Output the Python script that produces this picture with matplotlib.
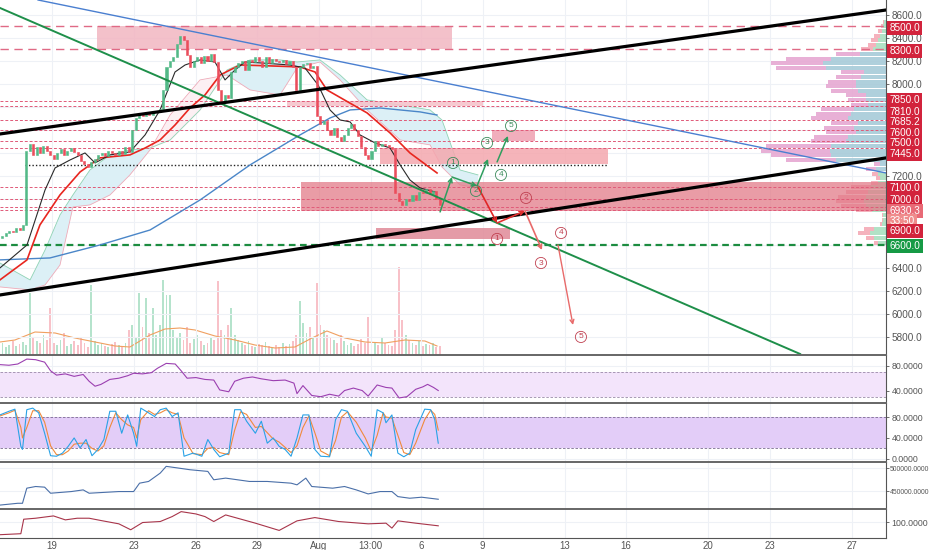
import matplotlib
matplotlib.use('Agg')
import numpy as np
from matplotlib import pyplot as plt
from matplotlib import transforms
from matplotlib.patches import Rectangle

plt.rcParams['font.family'] = ['Liberation Sans', 'DejaVu Sans']

# ---------------- price data (4h candles from 16 Jul 12:00) ----------------
t_start = 16.5
first_open = 6660
closes = [6680, 6700, 6720,
          6710, 6750, 6730, 6770, 7420, 7480,
          7380, 7450, 7400, 7460, 7420, 7380,
          7350, 7400, 7430, 7380, 7420, 7440,
          7410, 7380, 7330, 7300, 7280, 7320,
          7350, 7380, 7400, 7370, 7420, 7400,
          7380, 7420, 7390, 7450, 7410, 7600,
          7700, 7740, 7720, 7750, 7730, 7760,
          7760, 7780, 7950, 8150, 8200, 8230,
          8350, 8420, 8380, 8250, 8150, 8200,
          8230, 8180, 8240, 8200, 8260, 8190,
          7950, 7850, 7900, 7880, 8100, 8150,
          8180, 8200, 8120, 8210, 8190, 8230,
          8200, 8150, 8230, 8180, 8220, 8200,
          8190, 8210, 8170, 8200, 8150, 7950,
          8150, 8170, 8180, 8140, 8160, 7720,
          7650, 7680, 7600, 7560, 7620, 7540,
          7500, 7560, 7620, 7650, 7600, 7550,
          7450, 7380, 7350, 7420, 7500, 7460,
          7480, 7470, 7450, 7430, 7050, 6980,
          6950, 7000, 6980, 7030, 6990, 7060,
          7050, 7090, 7040, 7070, 7000, 6950]

volumes = [12, 8, 10, 14, 9, 11, 13, 10, 62, 18, 14, 12, 20, 15, 47,
           12, 10, 15, 22, 9, 11, 14, 10, 18, 12, 8, 70,
           14, 10, 12, 9, 8, 11, 13, 10, 9, 12, 25, 30, 18,
           62, 28, 57, 22, 47, 20, 30, 75, 60, 60,
           25, 18, 22, 15, 28, 12, 16, 20, 14, 10, 12, 18, 15,
           74, 25, 20, 30, 47, 20, 15,
           12, 10, 14, 9, 8, 11, 10, 13, 9, 7, 10, 8, 12, 9, 11, 14, 20,
           54, 32, 22, 28, 18, 72, 30, 25, 20, 18,
           15, 12, 20, 14, 10, 12, 9, 11, 16, 12,
           38, 14, 12, 10, 18, 12, 10, 9, 25,
           88, 35, 20, 15, 12, 10, 14, 9, 11, 10, 12, 8, 9]

vol_ma_days = [16.46, 17.19, 18.17, 19.15, 20.12, 21.10, 22.07, 22.80, 23.78, 24.51,
               25.24, 25.98, 26.95, 27.93, 28.90, 29.88, 30.85, 31.68, 32.41, 33.29,
               34.27, 35.24, 36.22, 37.19, 37.78]
vol_ma = [13, 15, 23, 22, 17, 13, 9, 8, 20, 26, 27, 25, 19, 15, 10, 7, 8, 17, 24, 17,
          13, 12, 15, 14, 9]

# moving averages
ma_black_days = [16.46, 17.78, 18.66, 19.15, 19.88, 20.61, 21.10, 21.83, 22.80, 23.54,
                 24.27, 25.00, 25.49, 26.22, 26.95, 27.44, 27.93, 28.41, 29.15, 30.61,
                 31.34, 31.98, 32.56, 33.05, 33.54, 34.02, 34.76, 35.49, 35.98, 36.46,
                 36.95, 37.68]
ma_black = [6400, 6600, 7078, 7270, 7339, 7400, 7313, 7383, 7409, 7557,
            7774, 8104, 8165, 8209, 8191, 8035, 8122, 8191, 8183, 8165,
            8139, 7991, 7774, 7687, 7670, 7557, 7487, 7443, 7296, 7165,
            7096, 7061]
ma_red_days = [16.46, 17.78, 18.41, 19.39, 20.37, 21.34, 22.80, 23.54, 24.27, 25.00,
               25.73, 26.46, 27.20, 28.17, 29.63, 31.10, 31.83, 32.41, 34.37, 35.49,
               36.46, 37.78]
ma_red = [6296, 6470, 6774, 7035, 7235, 7357, 7383, 7443, 7513, 7643,
          7791, 7904, 8078, 8165, 8157, 8148, 8104, 7948, 7748, 7574,
          7400, 7226]
ma_blue_days = [16.46, 18.90, 21.34, 23.78, 26.22, 28.66, 31.10, 32.56, 33.54, 35.00,
                36.95, 37.78]
ma_blue = [6470, 6487, 6600, 6730, 6991, 7296, 7557, 7704, 7774, 7791, 7757, 7730]

# ichimoku cloud
cloud_days = [16.46, 17.93, 18.66, 19.39, 20.02, 20.85, 21.83, 22.80, 23.78, 24.76,
              26.22, 27.54, 28.66, 30.12, 30.95, 32.07, 33.05, 34.37, 35.98, 37.44,
              38.02, 38.90, 39.78]
span_a = [6443, 6296, 6556, 6861, 7035, 7252, 7383, 7426, 7443, 7513,
          7774, 8122, 8209, 8209, 8191, 8209, 8078, 7861, 7817, 7774,
          7687, 7252, 7209]
span_b = [6235, 6209, 6252, 6426, 6930, 6948, 7035, 7209, 7426, 7730,
          8035, 8078, 7948, 7904, 8139, 8191, 8035, 7774, 7513, 7470,
          7278, 7122, 7096]

# drawn levels and zones
levels_major = [8500, 8300]
levels_minor = [7850, 7810, 7685.2, 7600, 7500, 7445, 7100, 7000, 6930.3, 6900]
level_support = 6600
dotted_level = 7296
dotted_span = [17.68, 46.12]

zone_x0 = [21.20, 30.46, 35.00, 40.46, 31.15, 34.80]
zone_x1 = [38.51, 40.02, 46.12, 42.56, 59.68, 41.34]
zone_lo = [8300, 7810, 7300, 7500, 6895, 6650]
zone_hi = [8500, 7850, 7445, 7600, 7150, 6750]

channel_top = ([16.46, 59.68], [7565, 8643])
channel_bot = ([16.46, 59.68], [6165, 7357])
green_trend = ([16.46, 55.49], [8661, 5652])
blue_trend = ([18.32, 59.68], [8730, 7226])

# wave scenarios
bull_days = [37.93, 38.51, 39.73, 40.27]
bull_prices = [6887, 7191, 7113, 7348]
bull_last = ([40.71, 41.24], [7322, 7548])
bull_lbl_days = [38.56, 39.68, 40.22, 40.90, 41.39]
bull_lbl_prices = [7313, 7070, 7487, 7209, 7635]

bear_days = [39.78, 40.71, 42.07, 42.90]
bear_prices = [7104, 6791, 6896, 6556]
bear_last = ([43.68, 44.41], [6600, 5904])
bear_lbl_days = [40.71, 42.12, 42.85, 43.83, 44.80]
bear_lbl_prices = [6652, 7009, 6443, 6704, 5800]

# volume profile (rows of 40)
vp_price = list(range(6600, 8521, 40))
vp_up = [8, 12, 16, 12, 4, 3, 3, 14, 20, 22, 20, 18, 15, 8, 6, 8, 10, 6,
         50, 55, 56, 55, 40, 38, 30, 32, 28, 38, 35, 32, 18, 20, 20, 28, 30,
         30, 25, 22, 60, 63, 55, 26, 13, 10, 8, 6, 4, 3, 2]
vp_down = [4, 8, 12, 10, 2, 1, 1, 16, 25, 28, 28, 22, 20, 7, 4, 6, 10, 6,
           50, 60, 69, 65, 35, 34, 30, 30, 27, 37, 35, 33, 17, 18, 20, 27, 30,
           28, 25, 23, 50, 52, 45, 24, 12, 8, 7, 6, 4, 2, 1]

# price scale
plain_ticks = [5800, 6000, 6200, 6400, 7200, 8000, 8200, 8400, 8600]
tag_values = ['8500.0', '8300.0', '7850.0', '7810.0', '7685.2', '7600.0', '7500.0',
              '7445.0', '7100.0', '7000.0', '6930.3', '33:50', '6900.0', '6600.0']

# oscillators
rsi_days = [16.46, 16.90, 17.33, 17.77, 18.20, 18.64, 18.93, 19.22, 19.65, 20.08,
            20.52, 20.81, 21.10, 21.39, 21.82, 22.26, 22.69, 22.98, 23.42, 23.85,
            24.14, 24.57, 25.01, 25.30, 25.59, 26.02, 26.46, 26.89, 27.18, 27.62,
            27.91, 28.34, 28.78, 29.21, 29.79, 30.37, 30.80, 30.95, 31.24, 31.67,
            32.11, 32.54, 32.98, 33.27, 33.70, 34.13, 34.42, 34.86, 35.29, 35.58,
            35.93, 36.31, 36.74, 37.09, 37.32, 37.61, 37.84]
rsi = [82, 81, 83, 91, 90, 86, 72, 65, 67, 63,
       66, 55, 47, 50, 58, 60, 64, 68, 67, 69,
       76, 84, 83, 72, 60, 61, 58, 57, 41, 38,
       55, 60, 62, 59, 56, 57, 52, 35, 48, 32,
       30, 34, 31, 40, 44, 40, 31, 49, 45, 44,
       28, 30, 42, 46, 50, 45, 40]

stoch_days = [16.46, 16.90, 17.19, 17.48, 17.56, 17.77, 18.06, 18.35, 18.64, 18.93,
              19.22, 19.51, 19.79, 20.08, 20.37, 20.66, 20.95, 21.24, 21.53, 21.82,
              22.11, 22.40, 22.69, 22.98, 23.13, 23.33, 23.71, 24.00, 24.28, 24.57,
              24.86, 25.15, 25.44, 25.88, 26.31, 26.60, 26.89, 27.18, 27.62, 27.91,
              28.20, 28.49, 28.92, 29.21, 29.50, 29.79, 30.08, 30.37, 30.66, 30.95,
              31.24, 31.53, 31.82, 32.11, 32.54, 32.83, 33.12, 33.41, 33.84, 34.28,
              34.57, 34.86, 35.15, 35.29, 35.58, 35.87, 36.16, 36.45, 36.74, 37.18,
              37.47, 37.67, 37.84]
stoch_k = [84, 91, 95, 24, 18, 94, 97, 88, 49, 6,
           5, 11, 24, 40, 21, 37, 6, 18, 37, 91,
           91, 49, 84, 49, 24, 97, 88, 81, 94, 97,
           81, 88, 5, 11, 5, 37, 18, 4, 11, 94,
           94, 72, 49, 72, 30, 40, 24, 18, 5, 40,
           84, 84, 18, 5, 4, 75, 94, 91, 49, 24,
           5, 94, 88, 69, 84, 11, 4, 11, 56, 95,
           94, 75, 30]
stoch_d = [82, 88, 93, 60, 40, 60, 92, 92, 70, 25,
           8, 8, 15, 28, 30, 30, 20, 15, 25, 60,
           88, 75, 65, 60, 40, 75, 92, 85, 88, 94,
           88, 85, 40, 10, 8, 20, 22, 12, 8, 55,
           90, 85, 60, 62, 50, 38, 32, 22, 12, 25,
           60, 82, 50, 15, 6, 35, 80, 90, 70, 40,
           15, 45, 88, 80, 78, 45, 12, 8, 30, 75,
           93, 85, 55]

obv_days = [16.46, 17.33, 17.56, 17.77, 18.20, 18.64, 18.93, 19.94, 20.52, 20.81,
            22.26, 22.98, 23.27, 23.71, 24.28, 24.57, 25.15, 25.73, 26.60, 26.89,
            27.47, 28.05, 28.63, 29.50, 30.66, 30.95, 31.38, 31.67, 32.69, 33.27,
            33.84, 34.42, 35.00, 35.58, 35.87, 36.45, 37.03, 37.84]
obv = [420000, 423900, 423900, 456500, 460100, 458700, 445600, 449200, 452800, 445600,
       449200, 449200, 467300, 471000, 489100, 503600, 500000, 496300, 492700, 474600,
       478200, 474600, 471000, 471000, 467300, 463700, 478200, 460100, 456500, 460100,
       452800, 444100, 449200, 449200, 438300, 434800, 437000, 432600]

osc4_days = [16.46, 17.48, 17.62, 18.20, 19.07, 19.65, 20.23, 20.81, 21.39, 22.26,
             22.84, 23.42, 24.28, 24.86, 25.30, 26.02, 26.46, 26.89, 27.47, 28.05,
             28.92, 30.08, 30.95, 31.82, 32.98, 34.42, 35.29, 35.58, 35.87, 36.74,
             37.84]
osc4 = [81, 82.5, 104.5, 106, 109.5, 103.5, 106, 106, 102.5, 97.5,
        88.5, 99.5, 101, 108.5, 116, 112.5, 108.5, 101, 111, 106,
        98.5, 87.5, 102, 107, 101, 97.5, 98.5, 91, 102, 98.5,
        94.5]

day_ticks = [19, 23, 26, 29, 32, 34.54, 37, 40, 44, 47, 51, 54, 58]
day_labels = ['19', '23', '26', '29', 'Aug', '13:00', '6', '9', '13', '16', '20', '23', '27']

# ---------------- figure ----------------
W, H = 932, 550
fig = plt.figure(figsize=(W / 100, H / 100), dpi=100)
fig.patch.set_facecolor('white')
XMIN, XMAX = 16.463, 59.68
grid_c = '#eef1f6'


def panel(top, bottom, share=None):
    a = fig.add_axes([0, 1 - bottom / H, 886 / W, (bottom - top) / H], sharex=share)
    for s in ['left', 'bottom']:
        a.spines[s].set_visible(False)
    a.spines['right'].set_color('#555555')
    a.spines['right'].set_linewidth(0.8)
    a.spines['top'].set_color('#666666')
    a.spines['top'].set_linewidth(1.4)
    a.yaxis.tick_right()
    a.tick_params(axis='y', length=2, width=0.6, labelsize=6.3, colors='#555555', pad=2)
    a.tick_params(axis='x', length=0, labelbottom=False)
    return a


ax = panel(0, 355)

# volume (behind the price)
axv = ax.twinx()
axv.set_ylim(0, 355)
axv.axis('off')
axv.set_zorder(ax.get_zorder() - 1)
ax.patch.set_visible(False)

ax.yaxis.tick_right()
ax.spines['top'].set_visible(False)
ax.set_xlim(XMIN, XMAX)
ax.set_ylim(5643, 8730)
ax.set_xticks(day_ticks)
price_grid = np.arange(5800, 8601, 200)
ax.set_yticks(price_grid)
ax.set_yticklabels([f'{v:.1f}' if v in plain_ticks else '' for v in price_grid])
ax.tick_params(axis='y', length=2, width=0.6, labelsize=7.2, colors='#555555', pad=2,
               labelleft=False, labelright=True)
ax.grid(color=grid_c, lw=0.8, zorder=0)
ax.set_axisbelow(True)

n = len(closes)
t = t_start + (np.arange(n) + 0.5) / 6
c = np.array(closes, dtype=float)
o = np.array([first_open] + closes[:-1], dtype=float)
up = c >= o
candle_col = np.where(up, '#53b987', '#eb4d5c')
vol_col = np.where(up, '#b5e3cc', '#f8c1c8')
axv.bar(t, volumes, width=0.09, color=vol_col, linewidth=0)
axv.plot(vol_ma_days, vol_ma, color='#f0a060', lw=0.8)

# volume profile
axp = ax.inset_axes([736 / 886, 0, 150 / 886, 1], zorder=1.5)
axp.set_xlim(150, 0)
axp.set_ylim(ax.get_ylim())
axp.axis('off')
axp.patch.set_visible(False)
vp_price = np.array(vp_price)
in_va = (vp_price >= 7240) & (vp_price <= 8240)
up_col = np.where(in_va, '#a7cbd9', '#a9dfc0')
dn_col = np.where(in_va, '#e6a8d2', '#f4aab6')
axp.barh(vp_price + 20, vp_up, height=34, left=0, color=up_col, linewidth=0, alpha=0.9)
axp.barh(vp_price + 20, vp_down, height=34, left=vp_up, color=dn_col, linewidth=0, alpha=0.9)

# ichimoku
a_arr, b_arr = np.array(span_a), np.array(span_b)
ax.fill_between(cloud_days, a_arr, b_arr, where=a_arr >= b_arr, interpolate=True,
                color='#dcf0f6', lw=0, zorder=1.2)
ax.fill_between(cloud_days, a_arr, b_arr, where=a_arr < b_arr, interpolate=True,
                color='#fcf0f3', lw=0, zorder=1.2)
ax.plot(cloud_days, span_a, color='#8fd3b4', lw=0.6, zorder=1.3)
ax.plot(cloud_days, span_b, color='#eeaab8', lw=0.6, zorder=1.3)

# zones
zone_fc = ['#f2b6c1', '#f5c3cb', '#f4a7ae', '#f0a5b5', '#e27b88', '#e08a98']
zone_alpha = [0.85, 0.9, 0.85, 0.9, 0.75, 0.85]
for x0, x1, lo, hi, fc, al in zip(zone_x0, zone_x1, zone_lo, zone_hi, zone_fc, zone_alpha):
    ax.add_patch(Rectangle((x0, lo), x1 - x0, hi - lo, fc=fc, ec='none', alpha=al, zorder=1.6))

# levels
for lv in levels_major:
    ax.axhline(lv, color='#e06a85', lw=1.0, dashes=(6, 4), zorder=2)
for lv in levels_minor:
    ax.axhline(lv, color='#e05a78', lw=0.7, dashes=(3, 2), zorder=2)
ax.axhline(level_support, color='#1c8c40', lw=1.6, dashes=(3, 2), zorder=2)
ax.hlines(dotted_level, dotted_span[0], dotted_span[1], color='#222222', lw=1.0,
          linestyles=(0, (1, 1.5)), zorder=2)

# candles
ax.bar(t, c - o, bottom=o, width=0.1, color=candle_col, edgecolor=candle_col,
       linewidth=0.4, zorder=4)

# moving averages
ax.plot(ma_blue_days, ma_blue, color='#4a86c8', lw=1.0, zorder=3)
ax.plot(ma_red_days, ma_red, color='#e8261f', lw=1.2, zorder=3)
ax.plot(ma_black_days, ma_black, color='#2a2a2a', lw=0.8, zorder=3)

# trend lines
ax.plot(*blue_trend, color='#4a7fd0', lw=1.0, zorder=5)
ax.plot(*green_trend, color='#1e8f4a', lw=1.4, zorder=5)
ax.plot(*channel_top, color='black', lw=2.3, zorder=5)
ax.plot(*channel_bot, color='black', lw=2.3, zorder=5)


def arrow(x0, y0, x1, y1, col, lw):
    ax.annotate('', xy=(x1, y1), xytext=(x0, y0), zorder=6,
                arrowprops=dict(arrowstyle='->', color=col, lw=lw,
                                shrinkA=0, shrinkB=0, mutation_scale=7))


for i in range(len(bull_days) - 1):
    arrow(bull_days[i], bull_prices[i], bull_days[i + 1], bull_prices[i + 1], '#2e9e5e', 1.1)
arrow(bull_last[0][0], bull_last[1][0], bull_last[0][1], bull_last[1][1], '#2e9e5e', 1.1)
bear_cols = ['#e02626', '#e23030', '#e86a6a']
for i in range(len(bear_days) - 1):
    arrow(bear_days[i], bear_prices[i], bear_days[i + 1], bear_prices[i + 1], bear_cols[i], 1.2)
arrow(bear_last[0][0], bear_last[1][0], bear_last[0][1], bear_last[1][1], '#e86a6a', 1.0)

for k, (d, p) in enumerate(zip(bull_lbl_days, bull_lbl_prices)):
    ax.text(d, p, str(k + 1), fontsize=6, color='#3a8a5a', ha='center', va='center', zorder=7,
            bbox=dict(boxstyle='circle,pad=0.25', fc='none', ec='#3a8a5a', lw=0.6))
for k, (d, p) in enumerate(zip(bear_lbl_days, bear_lbl_prices)):
    ax.text(d, p, str(k + 1), fontsize=6, color='#c04050', ha='center', va='center', zorder=7,
            bbox=dict(boxstyle='circle,pad=0.25', fc='none', ec='#c04050', lw=0.6))

# price tags on the scale
tag_pos = [8487, 8287, 7861, 7757, 7670, 7574, 7487, 7391, 7096, 6991, 6896, 6809, 6722, 6591]
tag_fc = ['#d2233c'] * 10 + ['#e86a76', '#ef8c8c', '#d2233c', '#169a45']
trans = transforms.blended_transform_factory(ax.transAxes, ax.transData)
for lab, pos, fc in zip(tag_values, tag_pos, tag_fc):
    ax.text(1.004, pos, lab, transform=trans, fontsize=7.2, color='white', ha='left',
            va='center', clip_on=False, zorder=8,
            bbox=dict(boxstyle='square,pad=0.22', fc=fc, ec='none'))

# ---------------- oscillator panels ----------------
ax_rsi = panel(355, 403, ax)
ax_rsi.set_ylim(19.8, 97.6)
ax_rsi.axhspan(30, 70, color='#f3e4fb', lw=0)
for lv in (30, 70):
    ax_rsi.axhline(lv, color='#9a8aa8', lw=0.6, dashes=(3, 2))
ax_rsi.plot(rsi_days, rsi, color='#9b3fb0', lw=0.8)
ax_rsi.set_yticks([40, 80])
ax_rsi.set_yticklabels(['40.0000', '80.0000'])
ax_rsi.grid(color=grid_c, lw=0.8)
ax_rsi.set_axisbelow(True)

ax_st = panel(403, 462, ax)
ax_st.set_ylim(-6, 106.8)
ax_st.axhspan(20, 80, color='#e3cdf8', lw=0)
for lv in (20, 80):
    ax_st.axhline(lv, color='#7a6a90', lw=0.6, dashes=(3, 2))
ax_st.plot(stoch_days, stoch_d, color='#f08a3c', lw=0.8)
ax_st.plot(stoch_days, stoch_k, color='#2aa2e6', lw=0.8)
ax_st.set_yticks([0, 40, 80])
ax_st.set_yticklabels(['0.0000', '40.0000', '80.0000'])
ax_st.grid(color=grid_c, lw=0.8)
ax_st.set_axisbelow(True)

ax_obv = panel(462, 509, ax)
ax_obv.set_ylim(411552, 512996)
ax_obv.plot(obv_days, obv, color='#4a6fa8', lw=0.8)
ax_obv.set_yticks([450000, 500000])
ax_obv.set_yticklabels(['450000.0000', '500000.0000'])
ax_obv.tick_params(axis='y', labelsize=4.9, pad=1)
ax_obv.grid(color=grid_c, lw=0.8)
ax_obv.set_axisbelow(True)

ax4 = panel(509, 538, ax)
ax4.set_ylim(76, 120)
ax4.plot(osc4_days, osc4, color='#a8354a', lw=0.8)
ax4.set_yticks([100])
ax4.set_yticklabels(['100.0000'])
ax4.grid(color=grid_c, lw=0.8)
ax4.set_axisbelow(True)
ax4.spines['bottom'].set_visible(True)
ax4.spines['bottom'].set_color('#555555')
ax4.set_xticks(day_ticks)
ax4.set_xticklabels(day_labels)
ax4.tick_params(axis='x', labelbottom=True, labelsize=7, colors='#555555', pad=2)
ax4.set_xlim(XMIN, XMAX)

fig.savefig('out.png', dpi=100, facecolor='white')
